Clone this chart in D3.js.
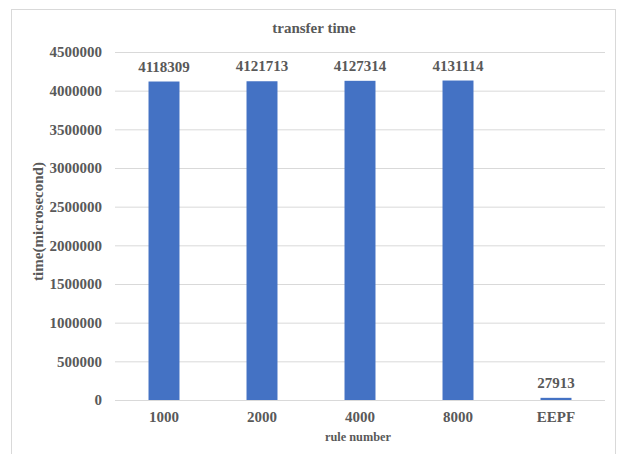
<!DOCTYPE html>
<html>
<head>
<meta charset="utf-8">
<script src="https://cdn.jsdelivr.net/npm/d3@7"></script>
<style>
  html, body { margin: 0; padding: 0; background: #fff; }
  svg { display: block; }
  text { font-family: "Liberation Serif", "Times New Roman", serif; font-weight: bold; fill: #595959; }
</style>
</head>
<body>
<script>
// Transfer time per rule number
const categories = ["1000", "2000", "4000", "8000", "EEPF"];
const values = [4118309, 4121713, 4127314, 4131114, 27913];
const yTicks = [0, 500000, 1000000, 1500000, 2000000, 2500000, 3000000, 3500000, 4000000, 4500000];

const W = 619, H = 454;
const plot = { left: 115, right: 605, top: 52, bottom: 400 };
const FONT = "'Liberation Serif', 'Times New Roman', serif";

const svg = d3.select("body").append("svg")
  .attr("width", W).attr("height", H);

// chart frame
svg.append("rect")
  .attr("x", 11.5).attr("y", 9.5)
  .attr("width", 604).attr("height", 460)
  .attr("fill", "none").attr("stroke", "#d9d9d9").attr("stroke-width", 1);

const x = d3.scaleBand().domain(categories)
  .range([plot.left, plot.right]).paddingInner(0.684).paddingOuter(0.342);
const y = d3.scaleLinear().domain([0, 4500000]).range([plot.bottom, plot.top]);

// gridlines + y tick labels
const yAxis = d3.axisLeft(y).tickValues(yTicks).tickFormat(d3.format("d"))
  .tickSize(-(plot.right - plot.left)).tickPadding(13);
const gy = svg.append("g").attr("transform", `translate(${plot.left},0)`).call(yAxis);
gy.select(".domain").remove();
gy.selectAll(".tick line").attr("stroke", "#d9d9d9").attr("stroke-width", 1);

// bars
svg.append("g").selectAll("rect").data(values).join("rect")
  .attr("x", (d, i) => x(categories[i]))
  .attr("width", x.bandwidth())
  .attr("y", d => y(d))
  .attr("height", d => y(0) - y(d))
  .attr("fill", "#4472c4");

// value labels
svg.append("g").selectAll("text").data(values).join("text")
  .attr("x", (d, i) => x(categories[i]) + x.bandwidth() / 2)
  .attr("y", d => y(d) - 10)
  .attr("text-anchor", "middle")
  .attr("font-size", 15)
  .text(d => d);

// x tick labels
const xAxis = d3.axisBottom(x).tickSize(0).tickPadding(11);
const gx = svg.append("g").attr("transform", `translate(0,${plot.bottom})`).call(xAxis);
gx.select(".domain").remove();

svg.selectAll("g.tick text")
  .attr("font-size", 15)
  .style("font-family", FONT)
  .style("font-weight", "bold")
  .attr("fill", "#595959");

// titles
svg.append("text").attr("x", 314).attr("y", 32.5).attr("text-anchor", "middle")
  .attr("font-size", 15).text("transfer time");
svg.append("text").attr("x", 358).attr("y", 441).attr("text-anchor", "middle")
  .attr("font-size", 12.3).text("rule number");
svg.append("text")
  .attr("transform", "translate(43,221.5) rotate(-90)")
  .attr("text-anchor", "middle").attr("font-size", 15)
  .text("time(microsecond)");
</script>
</body>
</html>
